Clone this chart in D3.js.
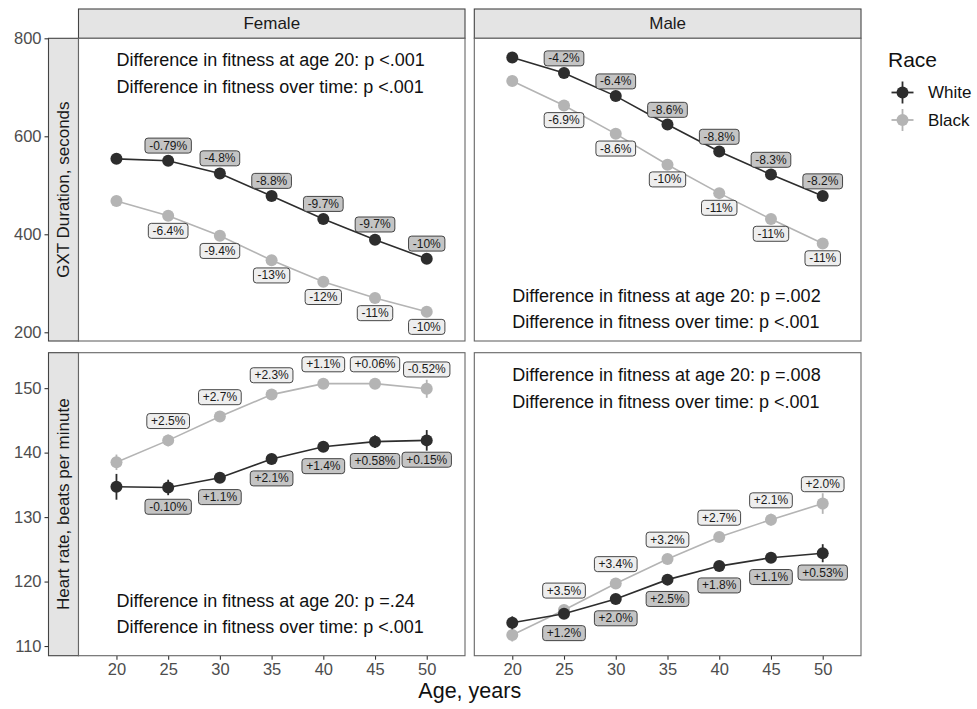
<!DOCTYPE html>
<html>
<head>
<meta charset="utf-8">
<script src="https://cdn.jsdelivr.net/npm/d3@7"></script>
<style>
  body { margin: 0; background: #fff; }
  svg { font-family: "Liberation Sans", Arial, sans-serif; }
</style>
</head>
<body>
<div id="chart"></div>
<script>
// ages on the x axis
const ages = [20, 25, 30, 35, 40, 45, 50];

// GXT duration, seconds
const gxtFemaleWhite = [554, 550, 524, 478, 431, 389, 350];
const gxtFemaleBlack = [468, 438, 397, 347, 303, 270, 242];
const gxtMaleWhite = [761, 729, 682, 624, 569, 522, 478];
const gxtMaleBlack = [713, 663, 605, 542, 484, 431, 381];
const gxtFemaleWhiteErr = [10, 6, 6, 6, 6, 6, 7];
const gxtFemaleBlackErr = [6, 6, 6, 6, 6, 6, 7];
const gxtMaleWhiteErr = [6, 6, 6, 6, 6, 6, 7];
const gxtMaleBlackErr = [6, 6, 6, 6, 6, 6, 10];

// heart rate, beats per minute
const hrFemaleWhite = [134.7, 134.6, 136.1, 139.0, 140.9, 141.7, 141.9];
const hrFemaleBlack = [138.5, 141.9, 145.6, 149.0, 150.7, 150.7, 149.9];
const hrMaleWhite = [113.6, 115.0, 117.3, 120.3, 122.4, 123.7, 124.4];
const hrMaleBlack = [111.7, 115.6, 119.7, 123.5, 126.9, 129.6, 132.1];
const hrFemaleWhiteErr = [2.0, 1.2, 0.8, 0.8, 0.7, 1.0, 1.6];
const hrFemaleBlackErr = [1.2, 0.9, 0.7, 0.6, 0.6, 0.8, 1.4];
const hrMaleWhiteErr = [1.0, 0.7, 0.6, 0.7, 0.7, 0.8, 1.4];
const hrMaleBlackErr = [1.0, 0.8, 0.7, 0.7, 0.7, 0.9, 1.6];

// percent change labels, ages 25..50
const gxtFemaleWhitePct = ["-0.79%", "-4.8%", "-8.8%", "-9.7%", "-9.7%", "-10%"];
const gxtFemaleBlackPct = ["-6.4%", "-9.4%", "-13%", "-12%", "-11%", "-10%"];
const gxtMaleWhitePct = ["-4.2%", "-6.4%", "-8.6%", "-8.8%", "-8.3%", "-8.2%"];
const gxtMaleBlackPct = ["-6.9%", "-8.6%", "-10%", "-11%", "-11%", "-11%"];
const hrFemaleWhitePct = ["-0.10%", "+1.1%", "+2.1%", "+1.4%", "+0.58%", "+0.15%"];
const hrFemaleBlackPct = ["+2.5%", "+2.7%", "+2.3%", "+1.1%", "+0.06%", "-0.52%"];
const hrMaleWhitePct = ["+1.2%", "+2.0%", "+2.5%", "+1.8%", "+1.1%", "+0.53%"];
const hrMaleBlackPct = ["+3.5%", "+3.4%", "+3.2%", "+2.7%", "+2.1%", "+2.0%"];

// p values
const pAtAge20 = ["p <.001", "p =.002", "p =.24", "p =.008"];
const pOverTime = ["p <.001", "p <.001", "p <.001", "p <.001"];

const sexes = ["Female", "Male"];
const outcomes = ["GXT Duration, seconds", "Heart rate, beats per minute"];
const gxtTicks = [200, 400, 600, 800];
const hrTicks = [110, 120, 130, 140, 150];

const colWhite = "#2d2d2d", colBlack = "#b4b4b4";
const fillWhite = "#c4c4c4", fillBlack = "#eeeeee";

const W = 977, H = 709;
const svg = d3.select("#chart").append("svg").attr("width", W).attr("height", H);

const colX = [[78.5, 465], [474.3, 861]];
const rowY = [[38.3, 341], [352.7, 655.7]];

const x0 = d3.scaleLinear().domain([16.33, 53.7]);
const yScales = [
  d3.scaleLinear().domain([182.2, 800]),
  d3.scaleLinear().domain([108.5, 155.5])
];

const panels = [
  {row: 0, col: 0, white: gxtFemaleWhite, black: gxtFemaleBlack, we: gxtFemaleWhiteErr, be: gxtFemaleBlackErr,
   wp: gxtFemaleWhitePct, bp: gxtFemaleBlackPct, whiteUp: true, nudge: 31, p: 0, textY: [755, 701]},
  {row: 0, col: 1, white: gxtMaleWhite, black: gxtMaleBlack, we: gxtMaleWhiteErr, be: gxtMaleBlackErr,
   wp: gxtMaleWhitePct, bp: gxtMaleBlackPct, whiteUp: true, nudge: 30, p: 1, textY: [275, 220]},
  {row: 1, col: 0, white: hrFemaleWhite, black: hrFemaleBlack, we: hrFemaleWhiteErr, be: hrFemaleBlackErr,
   wp: hrFemaleWhitePct, bp: hrFemaleBlackPct, whiteUp: false, nudge: 3, p: 2, textY: [117.0, 112.9]},
  {row: 1, col: 1, white: hrMaleWhite, black: hrMaleBlack, we: hrMaleWhiteErr, be: hrMaleBlackErr,
   wp: hrMaleWhitePct, bp: hrMaleBlackPct, whiteUp: false, nudge: 3, p: 3, textY: [152.1, 147.9]}
];

// strips on top
sexes.forEach((s, i) => {
  const [a, b] = colX[i];
  svg.append("rect").attr("x", a).attr("y", 9).attr("width", b - a).attr("height", 29.3)
    .attr("fill", "#e4e4e4").attr("stroke", "#444").attr("stroke-width", 1.1);
  svg.append("text").attr("x", (a + b) / 2).attr("y", 23.7).attr("text-anchor", "middle")
    .attr("dominant-baseline", "central").attr("font-size", 17).attr("fill", "#1a1a1a").text(s);
});

// strips on the left, with y axes outside
outcomes.forEach((o, r) => {
  const [t, b] = rowY[r];
  svg.append("rect").attr("x", 48.5).attr("y", t).attr("width", 30).attr("height", b - t)
    .attr("fill", "#e4e4e4").attr("stroke", "#444").attr("stroke-width", 1.1);
  svg.append("text").attr("transform", `translate(63.5,${(t + b) / 2}) rotate(-90)`)
    .attr("text-anchor", "middle").attr("dominant-baseline", "central")
    .attr("font-size", 17).attr("fill", "#1a1a1a").text(o);
  const y = yScales[r].copy().range([b, t]);
  const ax = svg.append("g").attr("transform", "translate(48.5,0)")
    .call(d3.axisLeft(y).tickValues(r === 0 ? gxtTicks : hrTicks).tickSize(4).tickPadding(3));
  ax.attr("font-size", 16.5).attr("font-family", null);
  ax.select(".domain").remove();
  ax.selectAll("line").attr("stroke", "#333").attr("stroke-width", 1.1);
  ax.selectAll("text").attr("fill", "#4d4d4d");
});

// x axes under bottom panels
colX.forEach(([a, b]) => {
  const x = x0.copy().range([a, b]);
  const ax = svg.append("g").attr("transform", `translate(0,${rowY[1][1]})`)
    .call(d3.axisBottom(x).tickValues(ages).tickSize(4).tickPadding(4));
  ax.attr("font-size", 16.5).attr("font-family", null);
  ax.select(".domain").remove();
  ax.selectAll("line").attr("stroke", "#333").attr("stroke-width", 1.1);
  ax.selectAll("text").attr("fill", "#4d4d4d");
});

svg.append("text").attr("x", (colX[0][0] + colX[1][1]) / 2).attr("y", 691)
  .attr("text-anchor", "middle").attr("dominant-baseline", "central")
  .attr("font-size", 21.5).attr("fill", "#111").text("Age, years");

const line = (x, y) => d3.line().x((d, i) => x(ages[i])).y(d => y(d));

function drawLabel(g, cx, cy, txt, fill) {
  const lg = g.append("g");
  const t = lg.append("text").attr("x", cx).attr("y", cy).attr("text-anchor", "middle")
    .attr("dominant-baseline", "central").attr("font-size", 12).attr("fill", "#1a1a1a").text(txt);
  const bb = t.node().getBBox();
  lg.insert("rect", "text").attr("x", cx - bb.width / 2 - 4).attr("y", cy - 7.5)
    .attr("width", bb.width + 8).attr("height", 15).attr("rx", 3)
    .attr("fill", fill).attr("stroke", "#333").attr("stroke-width", 0.9);
}

panels.forEach(p => {
  const [a, b] = colX[p.col];
  const [t, bt] = rowY[p.row];
  const x = x0.copy().range([a, b]);
  const y = yScales[p.row].copy().range([bt, t]);
  const g = svg.append("g");
  g.append("rect").attr("x", a).attr("y", t).attr("width", b - a).attr("height", bt - t)
    .attr("fill", "#fff").attr("stroke", "#666").attr("stroke-width", 1.1);

  // annotation text
  g.append("text").attr("x", x(20)).attr("y", y(p.textY[0])).attr("dominant-baseline", "central")
    .attr("font-size", 18).attr("fill", "#111").text("Difference in fitness at age 20: " + pAtAge20[p.p]);
  g.append("text").attr("x", x(20)).attr("y", y(p.textY[1])).attr("dominant-baseline", "central")
    .attr("font-size", 18).attr("fill", "#111").text("Difference in fitness over time: " + pOverTime[p.p]);

  const series = [
    {v: p.black, e: p.be, c: colBlack},
    {v: p.white, e: p.we, c: colWhite}
  ];
  series.forEach(s => {
    g.append("path").attr("d", line(x, y)(s.v)).attr("fill", "none")
      .attr("stroke", s.c).attr("stroke-width", 1.6);
    g.selectAll(null).data(s.v).enter().append("line")
      .attr("x1", (d, i) => x(ages[i])).attr("x2", (d, i) => x(ages[i]))
      .attr("y1", (d, i) => y(d - s.e[i])).attr("y2", (d, i) => y(d + s.e[i]))
      .attr("stroke", s.c).attr("stroke-width", 1.8);
    g.selectAll(null).data(s.v).enter().append("circle")
      .attr("cx", (d, i) => x(ages[i])).attr("cy", d => y(d)).attr("r", 6).attr("fill", s.c);
  });

  // percent labels (ages 25..50)
  ages.slice(1).forEach((age, k) => {
    const i = k + 1;
    const wDir = p.whiteUp ? 1 : -1;
    drawLabel(g, x(age), y(p.black[i] - wDir * p.nudge), p.bp[k], fillBlack);
    drawLabel(g, x(age), y(p.white[i] + wDir * p.nudge), p.wp[k], fillWhite);
  });
});

// legend
const leg = svg.append("g");
leg.append("text").attr("x", 888).attr("y", 59).attr("dominant-baseline", "central")
  .attr("font-size", 21).attr("fill", "#111").text("Race");
[["White", colWhite], ["Black", colBlack]].forEach(([name, c], i) => {
  const cy = 92.5 + i * 27.5, cx = 902.5;
  leg.append("line").attr("x1", cx - 11).attr("x2", cx + 11).attr("y1", cy).attr("y2", cy)
    .attr("stroke", c).attr("stroke-width", 1.8);
  leg.append("line").attr("x1", cx).attr("x2", cx).attr("y1", cy - 11).attr("y2", cy + 11)
    .attr("stroke", c).attr("stroke-width", 1.8);
  leg.append("circle").attr("cx", cx).attr("cy", cy).attr("r", 6).attr("fill", c);
  leg.append("text").attr("x", 928).attr("y", cy).attr("dominant-baseline", "central")
    .attr("font-size", 17).attr("fill", "#111").text(name);
});
</script>
</body>
</html>
